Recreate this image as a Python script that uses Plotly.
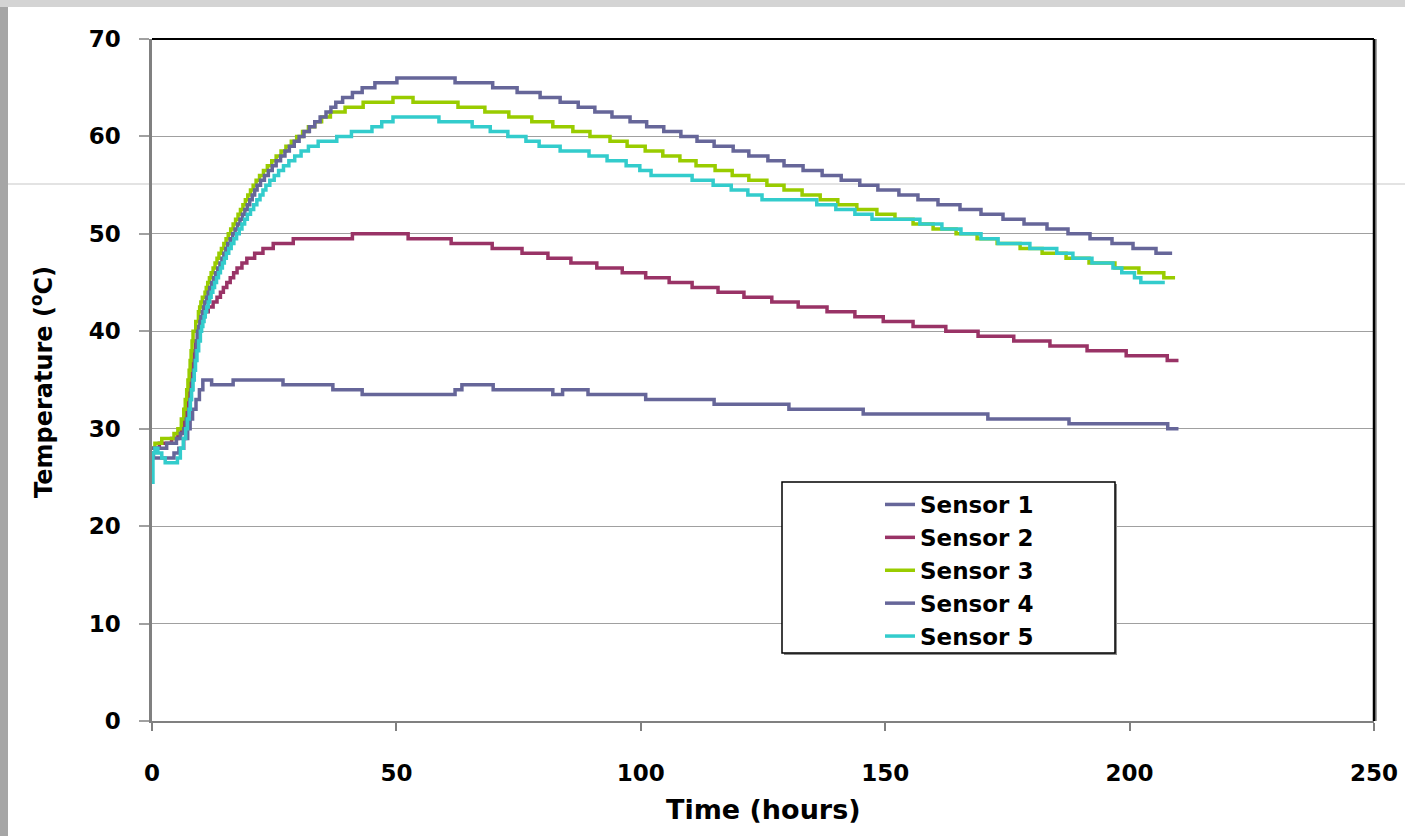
import plotly.graph_objects as go

# ---------------- data ----------------
x_ticks = [0, 50, 100, 150, 200, 250]
y_ticks = [0, 10, 20, 30, 40, 50, 60, 70]
names = ["Sensor 1", "Sensor 2", "Sensor 3", "Sensor 4", "Sensor 5"]
colors = ["#666699", "#993366", "#99CC00", "#666699", "#33CCCC"]

s1_t = [0, 0.3, 4.5, 5.5, 6.5, 7.3, 7.8, 8.3, 9.0, 9.7, 10.4, 12.2, 16.6, 26.8, 37.0, 43.0, 62.0, 63.4,
        69.8, 82.0, 84.0, 89.2, 101.0, 115.0, 130.3, 145.5, 171.0, 187.6, 207.8, 210.0]
s1_v = [27.5, 27.0, 27.5, 28, 29, 30, 31, 32, 33, 34, 35, 34.5, 35, 34.5, 34, 33.5, 34, 34.5,
        34, 33.5, 34, 33.5, 33, 32.5, 32, 31.5, 31, 30.5, 30, 30]

s2_t = [0, 1.5, 4.0, 5.3, 6.0, 6.5, 6.8, 7.1, 7.4, 7.7, 8.0, 8.3, 8.6, 8.95, 9.3, 9.9, 10.2, 10.8,
        11.5, 12.5, 13.3, 14.0, 14.6, 15.3, 16.0,
        16.7, 17.4, 18.4, 19.4, 21.0, 22.7, 24.8, 28.9, 41.0, 52.4, 61.2, 69.6, 75.7, 81.0, 85.7, 91.0,
        96.2, 101.0, 105.8, 110.5, 115.8, 121.1, 126.8, 132.2, 138.1, 143.8, 149.6, 155.7, 162.4, 169.0,
        176.3, 183.7, 191.3, 199.3, 207.7, 210.0]
s2_v = [28, 28.5, 29, 29.5, 30, 31, 32, 33, 34, 35, 36, 37, 38, 39, 40, 41, 41.5, 42,
        42.5, 43, 43.5, 44, 44.5, 45, 45.5,
        46, 46.5, 47, 47.5, 48, 48.5, 49, 49.5, 50, 49.5, 49, 48.5, 48, 47.5, 47, 46.5,
        46, 45.5, 45, 44.5, 44, 43.5, 43, 42.5, 42, 41.5, 41, 40.5, 40, 39.5,
        39, 38.5, 38, 37.5, 37, 37]

s3_t = [0, 0.6, 2.0, 4.5, 5.3, 6.0, 6.5, 6.8, 7.1, 7.35, 7.6, 7.8, 8.0, 8.2, 8.4, 8.95, 9.5, 9.75,
        10.0, 10.3, 10.85, 11.1, 11.4, 11.75, 12.1, 12.5, 12.9, 13.3, 13.7, 14.2, 14.7, 15.15, 15.6,
        16.1, 16.6, 17.1, 17.6, 18.1, 18.6, 19.1, 19.6, 20.15, 20.7,
        21.3, 22.0, 22.8, 23.6, 24.5, 25.4, 26.4, 27.4, 28.5, 29.6, 30.8,
        32.0, 33.3, 34.7, 36.5, 39.5, 43.2, 49.3, 53.4, 62.6, 68.1, 73.0, 77.7, 82.0, 86.1, 89.6, 93.7,
        97.2, 100.9, 104.5, 108.0, 111.3, 115.2, 118.7, 122.1, 125.8, 129.3, 133.0, 136.7, 140.3, 144.2,
        148.3, 152.0, 155.7, 159.8, 164.5, 168.8, 172.9, 177.6, 182.1, 187.0, 191.7, 197.0, 201.9,
        207.0, 209.3]
s3_v = [28, 28.5, 29, 29.5, 30, 31, 32, 33, 34, 35, 36, 37, 38, 39, 40, 41, 42, 42.5,
        43, 43.5, 44, 44.5, 45, 45.5, 46, 46.5, 47, 47.5, 48, 48.5, 49, 49.5, 50,
        50.5, 51, 51.5, 52, 52.5, 53, 53.5, 54, 54.5, 55,
        55.5, 56, 56.5, 57, 57.5, 58, 58.5, 59, 59.5, 60, 60.5,
        61, 61.5, 62, 62.5, 63, 63.5, 64, 63.5, 63, 62.5, 62, 61.5, 61, 60.5, 60, 59.5,
        59, 58.5, 58, 57.5, 57, 56.5, 56, 55.5, 55, 54.5, 54, 53.5, 53, 52.5,
        52, 51.5, 51, 50.5, 50, 49.5, 49, 48.5, 48, 47.5, 47, 46.5, 46,
        45.5, 45.5]

s4_t = [0, 3.0, 5.0, 5.8, 6.5, 7.0, 7.5, 7.75, 8.0, 8.25, 8.5, 8.7, 8.9, 9.1, 9.3, 9.55, 9.8, 10.0,
        10.3, 10.55, 10.8, 11.15, 11.5, 11.8, 12.2, 12.6, 13.0, 13.45, 13.9, 14.3, 14.7, 15.1, 15.5,
        16.0, 16.5, 17.0, 17.5, 18.0, 18.5, 19.0, 19.5, 20.0, 20.5, 21.0, 21.5,
        22.2, 23.0, 23.8, 24.6, 25.4, 26.3, 27.2, 28.1, 29.1, 30.1, 31.1,
        32.2, 33.3, 34.4, 35.6, 36.6, 37.6, 39.0, 41.0, 43.0, 45.6, 50.1, 62.0, 69.7, 74.7, 79.4, 83.5,
        87.2, 90.6, 94.1, 97.8, 101.2, 104.7, 108.2, 111.5, 115.0, 118.9, 122.1, 126.0, 129.3, 133.2,
        137.1, 141.0, 144.8, 148.5, 152.8, 156.7, 160.8, 165.3, 169.6, 174.1, 178.4, 183.1, 187.4,
        191.9, 196.4, 200.7, 205.4, 208.7]
s4_v = [28, 28.5, 29, 29.5, 30, 31, 32, 33, 34, 35, 36, 37, 38, 39, 40, 40.5, 41, 41.5,
        42, 42.5, 43, 43.5, 44, 44.5, 45, 45.5, 46, 46.5, 47, 47.5, 48, 48.5, 49,
        49.5, 50, 50.5, 51, 51.5, 52, 52.5, 53, 53.5, 54, 54.5, 55,
        55.5, 56, 56.5, 57, 57.5, 58, 58.5, 59, 59.5, 60, 60.5,
        61, 61.5, 62, 62.5, 63, 63.5, 64, 64.5, 65, 65.5, 66, 65.5, 65, 64.5, 64, 63.5,
        63, 62.5, 62, 61.5, 61, 60.5, 60, 59.5, 59, 58.5, 58, 57.5, 57, 56.5,
        56, 55.5, 55, 54.5, 54, 53.5, 53, 52.5, 52, 51.5, 51, 50.5, 50,
        49.5, 49, 48.5, 48, 48]

s5_t = [0, 0.2, 0.6, 1.2, 2.0, 2.7, 5.2, 5.8, 6.4, 6.9, 7.25, 7.6, 7.85, 8.1, 8.4, 8.65, 8.9, 9.2,
        9.55, 9.9, 10.15, 10.4, 10.65, 10.9, 11.2, 11.5, 11.8, 12.1, 12.45, 12.8, 13.2, 13.6, 14.0,
        14.4, 14.8, 15.2, 15.7, 16.2, 16.75, 17.3, 17.85, 18.4, 18.95, 19.5, 20.15, 20.8, 21.45, 22.1,
        22.7, 23.3, 24.1, 25.0, 25.9, 26.9, 28.0, 29.2, 30.5, 32.0,
        34.0, 37.8, 40.8, 45.0, 47.0, 49.3, 58.7, 65.5, 69.2, 72.8, 76.5, 79.2, 83.5, 89.4, 93.1, 97.0,
        99.8, 102.1, 110.5, 114.8, 118.5, 121.9, 124.8, 136.0, 139.9, 143.8, 147.3, 157.1, 161.6, 165.5,
        169.6, 173.1, 179.6, 185.1, 188.4, 192.3, 196.6, 198.4, 201.0, 202.3, 207.2]
s5_v = [24.5, 27.5, 28, 27.5, 27, 26.5, 27, 28, 29, 30, 31, 32, 33, 34, 35, 36, 37, 38,
        39, 40, 40.5, 41, 41.5, 42, 42.5, 43, 43.5, 44, 44.5, 45, 45.5, 46, 46.5,
        47, 47.5, 48, 48.5, 49, 49.5, 50, 50.5, 51, 51.5, 52, 52.5, 53, 53.5, 54,
        54.5, 55, 55.5, 56, 56.5, 57, 57.5, 58, 58.5, 59,
        59.5, 60, 60.5, 61, 61.5, 62, 61.5, 61, 60.5, 60, 59.5, 59, 58.5, 58, 57.5, 57,
        56.5, 56, 55.5, 55, 54.5, 54, 53.5, 53, 52.5, 52, 51.5, 51, 50.5, 50,
        49.5, 49, 48.5, 48, 47.5, 47, 46.5, 46, 45.5, 45, 45]

series_t = [s1_t, s2_t, s3_t, s4_t, s5_t]
series_v = [s1_v, s2_v, s3_v, s4_v, s5_v]

# ---------------- figure ----------------
W, H = 1405, 836
L, R, T, B = 152, 31, 39, 115
pw, ph = W - L - R, H - T - B


def px_x(p):
    return (p - L) / pw


def px_y(p):
    return (H - B - p) / ph


FONT = "DejaVu Sans"

fig = go.Figure()
for i, (n, c, t, v) in enumerate(zip(names, colors, series_t, series_v)):
    fig.add_trace(go.Scatter(x=t, y=v, name=n, mode="lines", line=dict(color=c, width=3.5, shape="hv"),
                             legendgroup=f"g{i}"))

shapes = [
    # background strips of the page
    dict(type="rect", xref="paper", yref="paper", x0=px_x(0), x1=px_x(8), y0=px_y(H), y1=px_y(0),
         fillcolor="#a6a6a6", line=dict(width=0), layer="below"),
    dict(type="rect", xref="paper", yref="paper", x0=px_x(0), x1=px_x(W), y0=px_y(7), y1=px_y(0),
         fillcolor="#d4d4d4", line=dict(width=0), layer="below"),
    dict(type="line", xref="paper", yref="paper", x0=px_x(8), x1=px_x(W), y0=px_y(184), y1=px_y(184),
         line=dict(color="#c8c8c8", width=1.2), layer="below"),
    # plot frame top / right
    dict(type="line", xref="paper", yref="paper", x0=0, x1=1, y0=1, y1=1, line=dict(color="black", width=2)),
    dict(type="line", xref="paper", yref="paper", x0=1.0015, x1=1.0015, y0=0, y1=1,
         line=dict(color="#909090", width=2)),
    dict(type="line", xref="paper", yref="paper", x0=1, x1=1, y0=0, y1=1, line=dict(color="black", width=2.5)),
    # legend box with shadow
    dict(type="rect", xref="paper", yref="paper", x0=px_x(784), x1=px_x(1117), y0=px_y(655), y1=px_y(484),
         fillcolor="#8c8c8c", line=dict(width=0)),
    dict(type="rect", xref="paper", yref="paper", x0=px_x(782), x1=px_x(1115), y0=px_y(653), y1=px_y(482),
         fillcolor="white", line=dict(color="black", width=1.5)),
]

annotations = [
    dict(text="Time (hours)", xref="paper", yref="paper", x=0.5, y=px_y(810), xanchor="center",
         yanchor="middle", showarrow=False, font=dict(family=FONT, size=27, color="black", weight="bold")),
    dict(text="Temperature (<sup>o</sup>C)", xref="paper", yref="paper", x=px_x(42), y=px_y(382),
         xanchor="center", yanchor="middle", textangle=-90, showarrow=False,
         font=dict(family=FONT, size=24, color="black", weight="bold")),
]

fig.update_layout(
    width=W, height=H, margin=dict(l=L, r=R, t=T, b=B, autoexpand=False),
    paper_bgcolor="white", plot_bgcolor="white",
    shapes=shapes, annotations=annotations,
    showlegend=True,
    legend=dict(x=px_x(880), y=px_y(483), xanchor="left", yanchor="top", bgcolor="rgba(0,0,0,0)",
                borderwidth=0, traceorder="grouped", tracegroupgap=0,
                font=dict(family=FONT, size=23, color="black", weight="bold")),
    xaxis=dict(range=[0, 250], tickvals=x_ticks, ticks="outside", ticklen=8, tickwidth=1.5, tickcolor="#808080",
               showline=True, linecolor="#808080", linewidth=2, showgrid=False, zeroline=False,
               ticklabelstandoff=22,
               tickfont=dict(family=FONT, size=23, color="black", weight="bold")),
    yaxis=dict(range=[0, 70], tickvals=y_ticks, ticks="outside", ticklen=10, tickwidth=1.5, tickcolor="#a0a0a0",
               showline=True, linecolor="#808080", linewidth=2.5, showgrid=True, gridcolor="#a0a0a0",
               gridwidth=1.3, zeroline=False, ticklabelstandoff=14,
               tickfont=dict(family=FONT, size=23, color="black", weight="bold")),
)

fig.write_html("out.html", config={"displayModeBar": False},
               post_script="document.body.style.margin='0';document.body.style.overflow='hidden';")
